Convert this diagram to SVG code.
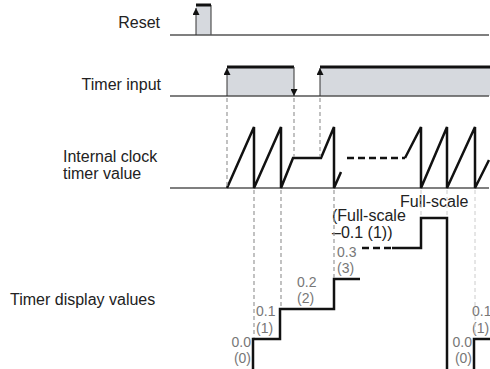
<svg xmlns="http://www.w3.org/2000/svg" width="490" height="369" viewBox="0 0 490 369">
<defs>
<style>
.lbl{font-family:"Liberation Sans",Arial,sans-serif;font-size:16px;fill:#222}
.val{font-family:"Liberation Sans",Arial,sans-serif;font-size:14px;fill:#777}
.base{stroke:#555;stroke-width:1.5;fill:none}
.pulse{fill:#d6d9de;stroke:none}
.top{stroke:#111;stroke-width:3;fill:none}
.edge{stroke:#333;stroke-width:1;fill:none}
.dash{stroke:#999;stroke-width:1.2;stroke-dasharray:4,3;fill:none}
.faint{stroke:#ccc;stroke-width:1;stroke-dasharray:4,3;fill:none}
.wave{stroke:#111;stroke-width:2.5;fill:none;stroke-linejoin:miter}
.wdash{stroke:#111;stroke-width:2.5;fill:none;stroke-dasharray:7,4}
</style>
<marker id="ah" viewBox="0 0 8 8" refX="8" refY="4" markerWidth="7" markerHeight="7" markerUnits="userSpaceOnUse" orient="auto">
<path d="M0,0 L8,4 L0,8 Z" fill="#111"/>
</marker>
</defs>

<g id="labels">
<text class="lbl" x="160" y="28" text-anchor="end">Reset</text>
<text class="lbl" x="161" y="90" text-anchor="end">Timer input</text>
<text class="lbl" x="63" y="162">Internal clock</text>
<text class="lbl" x="63" y="179">timer value</text>
<text class="lbl" x="10" y="305">Timer display values</text>
</g>

<g id="reset">
<rect class="pulse" x="196" y="5" width="15" height="30"/>
<line class="edge" x1="211" y1="5" x2="211" y2="35"/>
<line class="top" x1="196" y1="5" x2="211" y2="5"/>
<line class="base" x1="170" y1="35" x2="489" y2="35"/>
</g>

<g id="timer-input">
<rect class="pulse" x="227" y="67" width="67" height="29"/>
<rect class="pulse" x="320" y="67" width="170" height="29"/>
<line class="top" x1="227" y1="67" x2="294" y2="67"/>
<line class="top" x1="320" y1="67" x2="490" y2="67"/>
<line class="base" x1="170" y1="96" x2="489" y2="96"/>
</g>

<g id="clock">
<line class="base" x1="170" y1="188" x2="489" y2="188"/>
<path class="wave" d="M227,188 L254,127 L254,188 L281,127 L281,188 L293,158 L321,158 L334,127 L334,188 L341,172"/>
<path class="wdash" d="M347,158 L405,158"/>
<path class="wave" d="M405,158 L421,127 L421,188 L447,127 L447,188 L475,127 L475,188 L489,160"/>
</g>

<g id="display">
<path class="wave" d="M253,369 L253,339 L280,339 L280,309 L334,309 L334,279 L360,279"/>
<path class="wdash" d="M362,248 L392,248"/>
<path class="wave" d="M392,248 L421,248 L421,218 L447,218 L447,369"/>
<path class="wave" d="M474,369 L474,339 L490,339"/>
<text class="val" x="251" y="347" text-anchor="end">0.0</text>
<text class="val" x="251" y="363" text-anchor="end">(0)</text>
<text class="val" x="256" y="316">0.1</text>
<text class="val" x="256" y="333">(1)</text>
<text class="val" x="297" y="287">0.2</text>
<text class="val" x="297" y="303">(2)</text>
<text class="val" x="337" y="257">0.3</text>
<text class="val" x="337" y="273">(3)</text>
<text class="val" x="472" y="347" text-anchor="end">0.0</text>
<text class="val" x="472" y="363" text-anchor="end">(0)</text>
<text class="val" x="472" y="316">0.1</text>
<text class="val" x="472" y="333">(1)</text>
<text class="lbl" x="332" y="221">(Full-scale</text>
<text class="lbl" x="332" y="238">–0.1 (1))</text>
<text class="lbl" x="400" y="207">Full-scale</text>
</g>

<g id="connectors">
<line class="edge" x1="196" y1="35" x2="196" y2="8" marker-end="url(#ah)"/>
<line class="edge" x1="227" y1="96" x2="227" y2="68" marker-end="url(#ah)"/>
<line class="edge" x1="320" y1="96" x2="320" y2="68" marker-end="url(#ah)"/>
<line class="edge" x1="294" y1="67" x2="294" y2="96" marker-end="url(#ah)"/>
<line class="dash" x1="227" y1="98" x2="227" y2="186"/>
<line class="dash" x1="294" y1="98" x2="294" y2="157"/>
<line class="dash" x1="320" y1="98" x2="320" y2="157"/>
<line class="dash" x1="254" y1="190" x2="254" y2="338"/>
<line class="dash" x1="281" y1="190" x2="281" y2="308"/>
<line class="dash" x1="334" y1="190" x2="334" y2="278"/>
<line class="faint" x1="421" y1="190" x2="421" y2="217"/>
<line class="faint" x1="447" y1="190" x2="447" y2="217"/>
<line class="faint" x1="475" y1="190" x2="475" y2="338"/>
</g>
</svg>
